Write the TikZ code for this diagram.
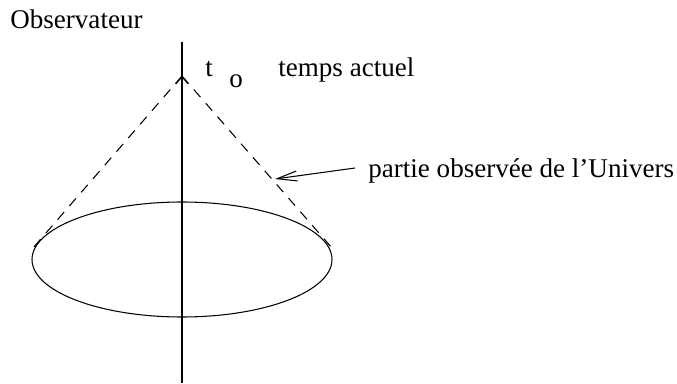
\documentclass[tikz,border=0pt]{standalone}
\usepackage{fontspec}
\setmainfont{Liberation Serif}
\usetikzlibrary{arrows.meta,positioning}

\begin{document}
\begin{tikzpicture}[x=0.02cm,y=0.02cm,
    lbl/.style={inner sep=0pt,anchor=base west,font=\fontsize{15.4}{18}\selectfont},
    trait/.style={line width=0.6pt},
    tirets/.style={trait,dash pattern=on 0.2cm off 0.16cm}]
    \useasboundingbox (0,0) rectangle (677,383);
    % axe du temps et cone
    \coordinate (sommet) at (182,307);
    \coordinate (haut) at (182,341);
    \coordinate (bas) at (182,0);
    \coordinate (bordg) at (33,135);
    \coordinate (bordd) at (332,135);
    \coordinate (pointe) at (275,204);
    \node[lbl] (obs) at (10,354.5) {Observateur};
    \node[lbl] (t) at (205,307) {t};
    \node[lbl] (o) at (229,296) {o};
    \node[lbl] (actuel) at (278,307) {temps actuel};
    \node[lbl] (univers) at (368,206) {partie observée de l’Univers};
    \draw[trait,-{Straight Barb[length=0.14cm,width=0.24cm]}] (bas) -- (sommet);
    \draw[trait] (sommet) -- (haut);
    \draw[tirets] (sommet) -- (bordg);
    \draw[tirets] (sommet) -- (bordd);
    \draw[trait] (182,123.5) ellipse [x radius=150, y radius=57.5];
    \draw[trait,-{Straight Barb[length=0.4cm,width=0.2cm]}] ([shift={(-13,9)}]univers.base west) -- (pointe);
\end{tikzpicture}
\end{document}
